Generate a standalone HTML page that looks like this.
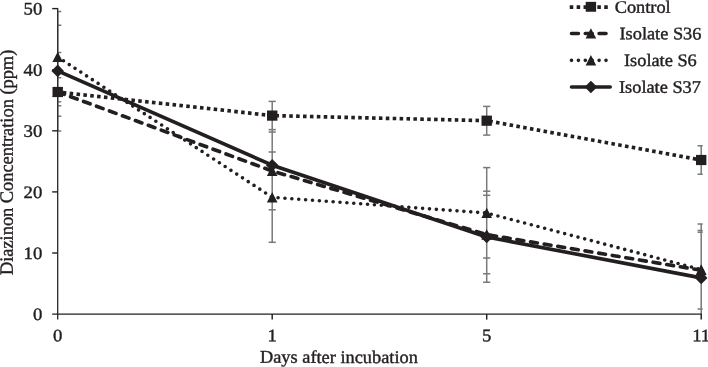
<!DOCTYPE html>
<html><head><meta charset="utf-8"><title>chart</title>
<style>
html,body{margin:0;padding:0;background:#fff;}
body{width:708px;height:367px;overflow:hidden;}
svg{display:block;will-change:transform;}
text{font-family:"Liberation Serif",serif;font-size:17.5px;fill:#231f20;stroke:#231f20;stroke-width:0.4px;text-rendering:geometricPrecision;}
</style></head><body>
<svg width="708" height="367" viewBox="0 0 708 367">
<rect width="708" height="367" fill="#fff"/>
<defs><clipPath id="pa"><rect x="57.7" y="0" width="645.0" height="314.8"/></clipPath></defs>

<g clip-path="url(#pa)" stroke="#77797c" stroke-width="1.5" fill="none">
<line x1="57.7" y1="11.4" x2="57.7" y2="131"/>
<line x1="54.1" y1="11.4" x2="61.3" y2="11.4"/>
<line x1="54.1" y1="25.3" x2="61.3" y2="25.3"/>
<line x1="54.1" y1="52.5" x2="61.3" y2="52.5"/>
<line x1="54.1" y1="77.8" x2="61.3" y2="77.8"/>
<line x1="54.1" y1="101.7" x2="61.3" y2="101.7"/>
<line x1="54.1" y1="105.8" x2="61.3" y2="105.8"/>
<line x1="54.1" y1="116.3" x2="61.3" y2="116.3"/>
<line x1="54.1" y1="130.9" x2="61.3" y2="130.9"/>
<line x1="272.2" y1="101.5" x2="272.2" y2="242.3"/>
<line x1="268.6" y1="101.4" x2="275.8" y2="101.4"/>
<line x1="268.6" y1="129.6" x2="275.8" y2="129.6"/>
<line x1="268.6" y1="132.0" x2="275.8" y2="132.0"/>
<line x1="268.6" y1="152.0" x2="275.8" y2="152.0"/>
<line x1="268.6" y1="209.8" x2="275.8" y2="209.8"/>
<line x1="268.6" y1="242.3" x2="275.8" y2="242.3"/>
<line x1="486.7" y1="106.4" x2="486.7" y2="135.1"/>
<line x1="486.7" y1="167.6" x2="486.7" y2="282.2"/>
<line x1="483.1" y1="106.4" x2="490.3" y2="106.4"/>
<line x1="483.1" y1="135.1" x2="490.3" y2="135.1"/>
<line x1="483.1" y1="167.6" x2="490.3" y2="167.6"/>
<line x1="483.1" y1="191.2" x2="490.3" y2="191.2"/>
<line x1="483.1" y1="195.3" x2="490.3" y2="195.3"/>
<line x1="483.1" y1="258.1" x2="490.3" y2="258.1"/>
<line x1="483.1" y1="273.7" x2="490.3" y2="273.7"/>
<line x1="483.1" y1="282.2" x2="490.3" y2="282.2"/>
<line x1="701.2" y1="145.8" x2="701.2" y2="174.2"/>
<line x1="701.2" y1="223.9" x2="701.2" y2="314"/>
<line x1="697.6" y1="145.8" x2="704.8" y2="145.8"/>
<line x1="697.6" y1="174.2" x2="704.8" y2="174.2"/>
<line x1="697.6" y1="223.9" x2="704.8" y2="223.9"/>
<line x1="697.6" y1="230.5" x2="704.8" y2="230.5"/>
<line x1="697.6" y1="232.2" x2="704.8" y2="232.2"/>
<line x1="697.6" y1="308.9" x2="704.8" y2="308.9"/>
</g>
<g stroke="#231f20" stroke-width="1.25" fill="none">
<line x1="57.7" y1="8.1" x2="57.7" y2="319.5"/>
<line x1="52.2" y1="314.0" x2="701.8" y2="314.0"/>
<line x1="52.2" y1="253.0" x2="57.7" y2="253.0" stroke-width="1.4"/>
<line x1="52.2" y1="191.9" x2="57.7" y2="191.9" stroke-width="1.4"/>
<line x1="52.2" y1="130.8" x2="57.7" y2="130.8" stroke-width="1.4"/>
<line x1="52.2" y1="69.7" x2="57.7" y2="69.7" stroke-width="1.4"/>
<line x1="52.2" y1="8.6" x2="57.7" y2="8.6" stroke-width="1.4"/>
<line x1="272.2" y1="314.0" x2="272.2" y2="319.6" stroke-width="1.45"/>
<line x1="486.7" y1="314.0" x2="486.7" y2="319.6" stroke-width="1.45"/>
<line x1="701.2" y1="314.0" x2="701.2" y2="319.6" stroke-width="1.45"/>
</g>
<g fill="none" stroke="#231f20" stroke-width="3.65" stroke-linejoin="round">
<polyline points="57.7,92.0 272.2,115.6 486.7,120.7 701.2,160.0" stroke-dasharray="3.55 3.35" stroke-dashoffset="1.77"/>
<polyline points="57.7,91.9 272.2,171.0 486.7,234.6 701.2,270.2" stroke-dasharray="6.9 6.9" stroke-linecap="round"/>
<polyline points="57.7,57.0 272.2,197.3 486.7,213.0 701.2,269.6" stroke-dasharray="0 6.9" stroke-linecap="round"/>
<polyline points="57.7,70.9 272.2,165.2 486.7,237.0 701.2,277.9" stroke-linecap="round"/>
</g>
<g fill="#231f20" stroke="none">
<path d="M57.70,86.60 L63.00,97.00 L52.40,97.00Z"/>
<path d="M272.20,165.70 L277.50,176.10 L266.90,176.10Z"/>
<path d="M486.70,229.30 L492.00,239.70 L481.40,239.70Z"/>
<path d="M701.20,264.90 L706.50,275.30 L695.90,275.30Z"/>
<rect x="52.50" y="86.90" width="10.4" height="10.2"/>
<rect x="267.00" y="110.50" width="10.4" height="10.2"/>
<rect x="481.50" y="115.60" width="10.4" height="10.2"/>
<rect x="696.00" y="154.90" width="10.4" height="10.2"/>
<path d="M57.70,51.70 L63.00,62.10 L52.40,62.10Z"/>
<path d="M272.20,192.00 L277.50,202.40 L266.90,202.40Z"/>
<path d="M486.70,207.70 L492.00,218.10 L481.40,218.10Z"/>
<path d="M701.20,264.30 L706.50,274.70 L695.90,274.70Z"/>
<path d="M57.70,64.60 L64.00,70.90 L57.70,77.20 L51.40,70.90Z"/>
<path d="M272.20,158.90 L278.50,165.20 L272.20,171.50 L265.90,165.20Z"/>
<path d="M486.70,230.70 L493.00,237.00 L486.70,243.30 L480.40,237.00Z"/>
<path d="M701.20,271.60 L707.50,277.90 L701.20,284.20 L694.90,277.90Z"/>
</g>
<g fill="none" stroke="#231f20" stroke-width="3.65">
<line x1="569.73" y1="7.1" x2="609.2" y2="7.1" stroke-dasharray="3.55 3.35"/>
<line x1="571.5" y1="33.5" x2="608.2" y2="33.5" stroke-dasharray="6.9 6.9" stroke-linecap="round"/>
<line x1="571.5" y1="60.3" x2="608.2" y2="60.3" stroke-dasharray="0 6.9" stroke-linecap="round"/>
<line x1="571.5" y1="87.0" x2="610.2" y2="87.0" stroke-linecap="round"/>
</g>
<g fill="#231f20" stroke="none">
<rect x="585.70" y="1.85" width="10.4" height="9.9"/>
<path d="M590.90,28.20 L596.20,38.60 L585.60,38.60Z"/>
<path d="M590.90,55.00 L596.20,65.40 L585.60,65.40Z"/>
<path d="M590.90,80.70 L597.20,87.00 L590.90,93.30 L584.60,87.00Z"/>
</g>
<text transform="translate(614.7,12.75) rotate(0.06) scale(1.047,1)" text-anchor="start">Control</text>
<text transform="translate(619.5,39.3) rotate(0.06) scale(1.047,1)" text-anchor="start">Isolate S36</text>
<text transform="translate(624.0,65.9) rotate(0.06) scale(1.047,1)" text-anchor="start">Isolate S6</text>
<text transform="translate(619.0,92.7) rotate(0.06) scale(1.047,1)" text-anchor="start">Isolate S37</text>
<text transform="translate(42.3,320.1) rotate(0.06) scale(1.07,1)" text-anchor="end">0</text>
<text transform="translate(42.3,259.0) rotate(0.06) scale(1.07,1)" text-anchor="end">10</text>
<text transform="translate(42.3,197.9) rotate(0.06) scale(1.07,1)" text-anchor="end">20</text>
<text transform="translate(42.3,136.8) rotate(0.06) scale(1.07,1)" text-anchor="end">30</text>
<text transform="translate(42.3,75.7) rotate(0.06) scale(1.07,1)" text-anchor="end">40</text>
<text transform="translate(42.3,14.6) rotate(0.06) scale(1.07,1)" text-anchor="end">50</text>
<text transform="translate(57.7,341.2) rotate(0.06) scale(1.07,1)" text-anchor="middle">0</text>
<text transform="translate(272.2,341.2) rotate(0.06) scale(1.07,1)" text-anchor="middle">1</text>
<text transform="translate(486.7,341.2) rotate(0.06) scale(1.07,1)" text-anchor="middle">5</text>
<text transform="translate(701.2,341.2) rotate(0.06) scale(1.07,1)" text-anchor="middle">11</text>
<text transform="translate(338.9,362.9) rotate(0.06) scale(1.025,1)" text-anchor="middle" style="font-size:17.9px">Days after incubation</text>
<text transform="translate(12.85,162.4) rotate(-89.94) scale(1.026,1.05)" text-anchor="middle" style="font-size:17.9px">Diazinon Concentration (ppm)</text>
</svg></body></html>
